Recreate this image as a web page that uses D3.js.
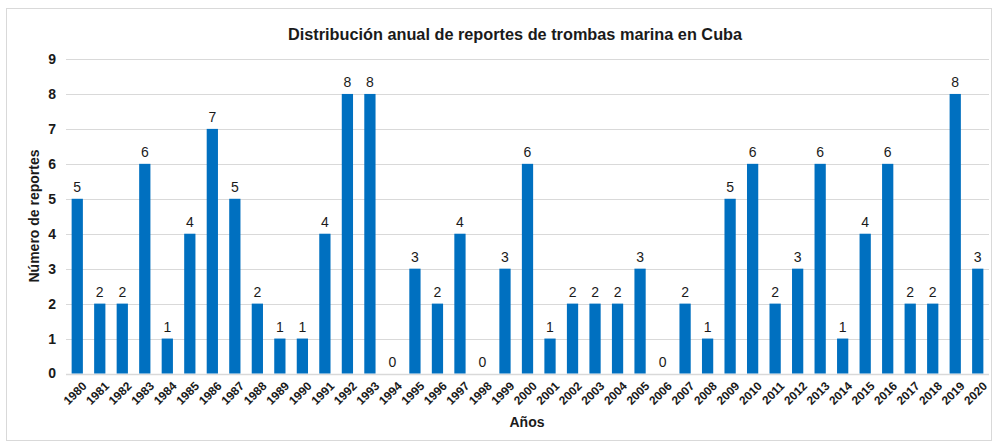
<!DOCTYPE html>
<html>
<head>
<meta charset="utf-8">
<script src="https://cdn.jsdelivr.net/npm/d3@7"></script>
<style>
  body { margin: 0; background: #fff; }
  text { font-family: "Liberation Sans", Arial, sans-serif; }
</style>
</head>
<body>
<div id="chart-area"></div>
<script>
let years = ["1980","1981","1982","1983","1984","1985","1986","1987","1988","1989","1990",
  "1991","1992","1993","1994","1995","1996","1997","1998","1999","2000",
  "2001","2002","2003","2004","2005","2006","2007","2008","2009","2010",
  "2011","2012","2013","2014","2015","2016","2017","2018","2019","2020"]
let reports = [5,2,2,6,1,4,7,5,2,1,1,
  4,8,8,0,3,2,4,0,3,6,
  1,2,2,2,3,0,2,1,5,6,
  2,3,6,1,4,6,2,2,8,3]
let yTicks = [0,1,2,3,4,5,6,7,8,9]

let width = 993
let height = 443
let margin = {top: 59, right: 4, bottom: 70, left: 66}

let svg = d3.select("#chart-area")
  .append("svg")
    .attr("width", width)
    .attr("height", height)

// outer border
svg.append("rect")
  .attr("x", 6.5).attr("y", 8.5)
  .attr("width", 985).attr("height", 432)
  .attr("fill", "#fff")
  .attr("stroke", "#d9d9d9")

let x = d3.scaleBand().domain(years).range([margin.left, width - margin.right]).paddingInner(0.5).paddingOuter(0.25)
let y = d3.scaleLinear().domain([0, 9]).range([373.5, 59])

let data = years.map((d, i) => ({year: d, value: reports[i]}))

// grid
svg.append("g")
  .selectAll("line").data(yTicks).enter()
  .append("line")
    .attr("x1", margin.left).attr("x2", 989)
    .attr("y1", d => Math.round(y(d)) + 0.5)
    .attr("y2", d => Math.round(y(d)) + 0.5)
    .attr("stroke", "#d9d9d9")
    .attr("stroke-width", d => d == 0 ? 1.5 : 1.2)

// y axis
let leftAxis = d3.axisLeft(y).tickValues(yTicks).tickSize(0).tickPadding(10)
svg.append("g")
  .attr("transform", "translate(" + margin.left + ",0)")
  .call(leftAxis)
  .call(g => g.select(".domain").remove())
  .selectAll("text")
    .attr("font-size", "14px")
    .attr("font-weight", "bold")
    .attr("fill", "#1a1a1a")
    .style("font-family", "Liberation Sans, Arial, sans-serif")

// bars
svg.append("g")
  .selectAll("rect").data(data).enter()
  .append("rect")
    .attr("x", d => x(d.year))
    .attr("y", d => y(d.value))
    .attr("width", x.bandwidth())
    .attr("height", d => y(0) - y(d.value))
    .attr("fill", "#0070C0")

// value labels
svg.append("g")
  .selectAll("text").data(data).enter()
  .append("text")
    .attr("x", d => x(d.year) + x.bandwidth() / 2)
    .attr("y", d => y(d.value) - 7)
    .attr("text-anchor", "middle")
    .attr("font-size", "14px")
    .attr("fill", "#1a1a1a")
    .text(d => d.value)

// x axis
let bottomAxis = d3.axisBottom(x).tickSize(0).tickPadding(6)
svg.append("g")
  .attr("transform", "translate(0," + y(0) + ")")
  .call(bottomAxis)
  .call(g => g.select(".domain").remove())
  .selectAll("text")
    .attr("font-size", "12px")
    .attr("font-weight", "bold")
    .attr("fill", "#1a1a1a")
    .style("font-family", "Liberation Sans, Arial, sans-serif")
    .attr("text-anchor", "end")
    .attr("dy", "0.35em")
    .attr("transform", "translate(3,6) rotate(-45)")

// title
svg.append("text")
  .attr("x", 515)
  .attr("y", 40)
  .attr("text-anchor", "middle")
  .attr("font-size", "16.3px")
  .attr("font-weight", "bold")
  .attr("fill", "#1a1a1a")
  .text("Distribución anual de reportes de trombas marina en Cuba")

// axis labels
svg.append("text")
  .attr("x", 527)
  .attr("y", 427)
  .attr("text-anchor", "middle")
  .attr("font-size", "14px")
  .attr("font-weight", "bold")
  .attr("fill", "#1a1a1a")
  .text("Años")

svg.append("text")
  .attr("transform", "translate(39,216) rotate(-90)")
  .attr("text-anchor", "middle")
  .attr("font-size", "14px")
  .attr("font-weight", "bold")
  .attr("fill", "#1a1a1a")
  .text("Número de reportes")
</script>
</body>
</html>
